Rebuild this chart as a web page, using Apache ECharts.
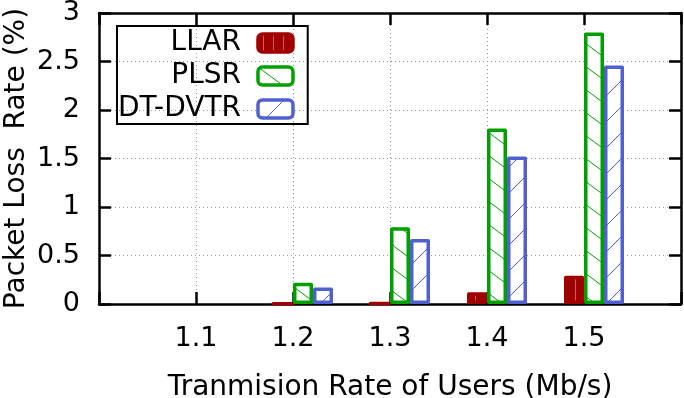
<!DOCTYPE html>
<html>
<head>
<meta charset="utf-8">
<script src="https://cdn.jsdelivr.net/npm/echarts@6/dist/echarts.min.js"></script>
<style>
html, body { margin: 0; padding: 0; background: #fff; }
#chart { width: 684px; height: 398px; }
</style>
</head>
<body>
<div id="chart"></div>
<script>
// transmission rates (x) and packet loss rate (%) per scheme
const rates = [1.1, 1.2, 1.3, 1.4, 1.5]
const llar = [null, 0.005, 0.01, 0.12, 0.29]
const plsr = [null, 0.22, 0.79, 1.81, 2.8]
const dtdvtr = [null, 0.17, 0.67, 1.52, 2.46]
const yTicks = [0, 0.5, 1, 1.5, 2, 2.5, 3]

const font = 'DejaVu Sans'
const red = '#a00000'
const green = '#00a000'
const blue = '#5060d0'

// hatch tile: line through the corners, repeats seamlessly
function hatch(color, w, h, dir, bg) {
  const c = document.createElement('canvas')
  c.width = w
  c.height = h
  const ctx = c.getContext('2d')
  ctx.fillStyle = bg
  ctx.fillRect(0, 0, w, h)
  ctx.strokeStyle = color
  ctx.lineWidth = 1
  for (let m = -1; m <= 1; m++) {
    ctx.beginPath()
    if (dir > 0) {
      ctx.moveTo(-2, (-2 * h) / w + m * h)
      ctx.lineTo(w + 2, ((w + 2) * h) / w + m * h)
    } else {
      ctx.moveTo(-2, h + (2 * h) / w + m * h)
      ctx.lineTo(w + 2, -((2 * h) / w) + m * h)
    }
    ctx.stroke()
  }
  return c
}

function stripes(color, bg, w) {
  const c = document.createElement('canvas')
  c.width = w
  c.height = 4
  const ctx = c.getContext('2d')
  ctx.fillStyle = bg
  ctx.fillRect(0, 0, w, 4)
  ctx.fillStyle = color
  ctx.fillRect(Math.floor(w / 2), 0, 1, 4)
  return c
}

const chart = echarts.init(document.getElementById('chart'))

function pairs(vals) {
  return rates.map((r, i) => [r, vals[i] === null ? '-' : vals[i]])
}

function barSeries(name, vals, color, fill) {
  return {
    name: name,
    type: 'bar',
    xAxisIndex: 0,
    yAxisIndex: 0,
    barWidth: 20,
    barGap: '0%',
    data: pairs(vals),
    itemStyle: {
      color: { image: fill, repeat: 'repeat' },
      borderColor: color,
      borderWidth: 3.5,
      borderJoin: 'round'
    },
    emphasis: { disabled: true }
  }
}

function axisLine() {
  return { show: true, onZero: false, lineStyle: { color: '#000', width: 2.5 } }
}
function tick() {
  return { show: true, inside: true, length: 12, lineStyle: { color: '#000', width: 2.5 } }
}
function gridLine() {
  return { show: true, lineStyle: { color: '#999', type: [1, 3], width: 1 } }
}

const options = {
  backgroundColor: '#fff',
  animation: false,
  grid: { left: 99, right: 3, top: 13, bottom: 94, containLabel: false, outerBoundsMode: 'none' },
  legend: {
    orient: 'vertical',
    left: 117,
    top: 26,
    align: 'right',
    itemWidth: 35,
    itemHeight: 18,
    itemGap: 5,
    padding: [3, 13, 1, 1],
    borderColor: '#000',
    borderWidth: 2,
    data: ['LLAR', 'PLSR', 'DT-DVTR'],
    itemStyle: { borderWidth: 3.5 },
    textStyle: {
      fontFamily: font,
      fontSize: 28,
      lineHeight: 18,
      color: '#000',
      width: 122,
      align: 'right',
      padding: [0, 12, 0, 0]
    }
  },
  xAxis: [
    {
      type: 'value',
      min: 1.0,
      max: 1.6,
      interval: 0.1,
      name: 'Tranmision Rate of Users (Mb/s)',
      nameLocation: 'middle',
      nameGap: 70,
      nameTextStyle: { fontFamily: font, fontSize: 28, color: '#000' },
      axisLine: axisLine(),
      axisTick: tick(),
      splitLine: gridLine(),
      axisLabel: {
        margin: 21,
        fontFamily: font,
        fontSize: 27,
        color: '#000',
        formatter: v => (rates.some(r => Math.abs(r - v) < 1e-6) ? v.toFixed(1) : '')
      }
    },
    {
      type: 'value',
      position: 'top',
      min: 1.0,
      max: 1.6,
      interval: 0.1,
      axisLine: axisLine(),
      axisTick: tick(),
      axisLabel: { show: false },
      splitLine: { show: false }
    }
  ],
  yAxis: [
    {
      type: 'value',
      min: yTicks[0],
      max: yTicks[yTicks.length - 1],
      interval: 0.5,
      name: 'Packet Loss  Rate (%)',
      nameLocation: 'middle',
      nameGap: 68,
      nameMoveOverlap: false,
      nameTextStyle: { fontFamily: font, fontSize: 28, color: '#000' },
      axisLine: axisLine(),
      axisTick: tick(),
      splitLine: gridLine(),
      axisLabel: { margin: 19, fontFamily: font, fontSize: 27, color: '#000' }
    },
    {
      type: 'value',
      position: 'right',
      min: yTicks[0],
      max: yTicks[yTicks.length - 1],
      interval: 0.5,
      axisLine: axisLine(),
      axisTick: tick(),
      axisLabel: { show: false },
      splitLine: { show: false }
    }
  ],
  series: [
    // empty slot so the cluster sits like gnuplot's (red left of the tic)
    {
      name: 'pad',
      type: 'bar',
      barWidth: 20,
      barGap: '0%',
      data: pairs([null, null, null, null, null]),
      silent: true
    },
    barSeries('LLAR', llar, red, stripes('#c86060', red, 10)),
    barSeries('PLSR', plsr, green, hatch(green, 31, 23, 1, '#fff')),
    barSeries('DT-DVTR', dtdvtr, blue, hatch(blue, 26, 26, -1, '#fff'))
  ]
}

chart.setOption(options)
</script>
</body>
</html>
